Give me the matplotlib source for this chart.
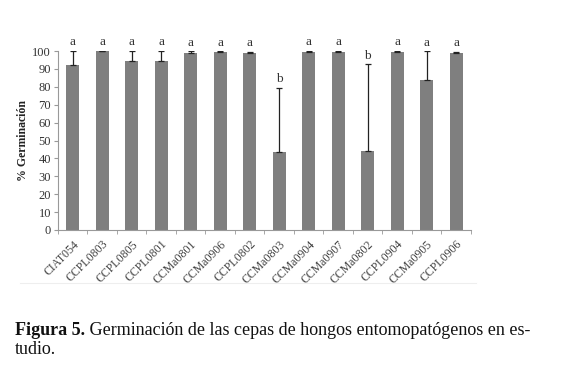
import matplotlib
matplotlib.use("Agg")
import matplotlib.pyplot as plt
import numpy as np

categories = ["CIAT054", "CCPL0803", "CCPL0805", "CCPL0801", "CCMa0801", "CCMa0906",
              "CCPL0802", "CCMa0803", "CCMa0904", "CCMa0907", "CCMa0802", "CCPL0904",
              "CCMa0905", "CCPL0906"]
values = [92.2, 99.8, 94.4, 94.6, 99.1, 99.4, 98.7, 43.4, 99.6, 99.6, 44.3, 99.6, 83.6, 99.0]
errors = [7.8, 0.2, 5.6, 5.4, 0.8, 0.5, 0.8, 36.1, 0.4, 0.4, 48.3, 0.4, 16.2, 0.7]
letters = ["a", "a", "a", "a", "a", "a", "a", "b", "a", "a", "b", "a", "a", "a"]
yticks = list(range(0, 101, 10))

plt.rcParams['font.family'] = ['Liberation Serif', 'DejaVu Serif']

fig = plt.figure(figsize=(5.8, 3.65), dpi=100)
ax = fig.add_axes([0.1, 0.370, 0.712, 0.490])

x = np.arange(len(categories))
ax.bar(x, values, width=0.45, color='#7f7f7f', zorder=2)
ax.errorbar(x, values, yerr=[np.zeros(len(errors)), errors], fmt='none',
            ecolor='#222222', elinewidth=0.9, capsize=2.5, capthick=0.9, zorder=3)

for xi, v, e, l in zip(x, values, errors, letters):
    top = v + e
    ax.text(xi, top + 1.5, l, ha='center', va='bottom', fontsize=9.5, color='#333333')

ax.set_xlim(-0.5, len(categories) - 0.5)
ax.set_ylim(0, 100)
ax.set_yticks(yticks)
ax.set_yticklabels([str(t) for t in yticks], fontsize=9, color='#333333')
ax.set_xticks(x)
ax.set_xticklabels(categories, rotation=45, ha='right', rotation_mode='anchor', fontsize=8.5,
                   color='#404040')
ax.set_xticks(np.arange(-0.5, len(categories)), minor=True)
ax.tick_params(axis='x', which='major', length=0, pad=6)
ax.tick_params(axis='x', which='minor', length=3, color='#999999', direction='out')
ax.tick_params(axis='y', length=3, color='#999999', pad=2)

for s in ['top', 'right']:
    ax.spines[s].set_visible(False)
for s in ['left', 'bottom']:
    ax.spines[s].set_color('#999999')
    ax.spines[s].set_linewidth(0.8)

ax.set_ylabel('% Germinación', fontsize=8.5, fontweight='bold', color='#222222')
ax.yaxis.set_label_coords(-0.07, 0.5)

# light chart-area border line below labels
fig.add_artist(plt.Line2D([0.035, 0.82], [0.225, 0.225], color='#eeeeee', lw=0.8))

cap_size = 13
t1 = fig.text(0.026, 0.082, "Figura 5.", fontsize=cap_size, fontweight='bold', va='baseline',
              color='#111111')
fig.canvas.draw()
bb = t1.get_window_extent(renderer=fig.canvas.get_renderer())
x2 = bb.x1 / fig.bbox.width
fig.text(x2, 0.082, " Germinación de las cepas de hongos entomopatógenos en es-",
         fontsize=cap_size, va='baseline', color='#111111')
fig.text(0.026, 0.030, "tudio.", fontsize=cap_size, va='baseline', color='#111111')

fig.savefig("out.png", dpi=100)
